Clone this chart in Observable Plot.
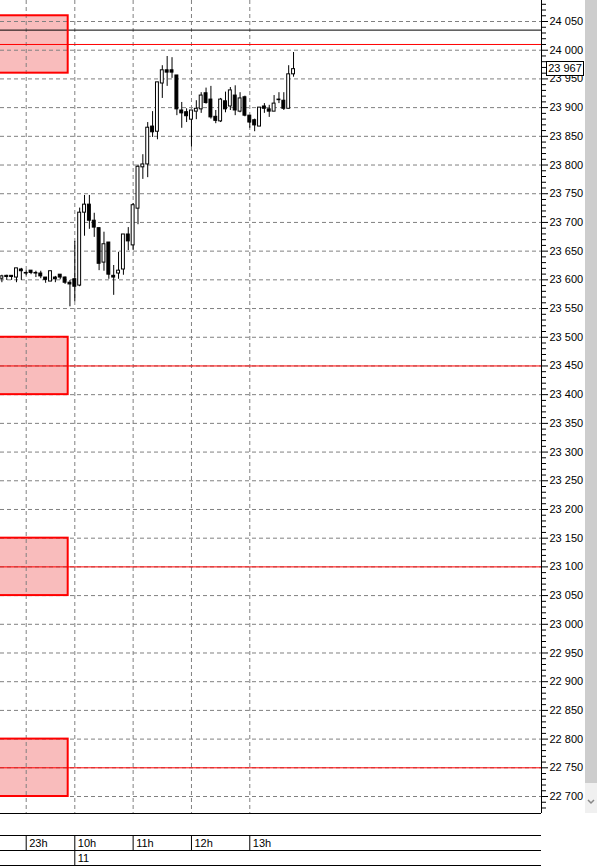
<!DOCTYPE html>
<html><head><meta charset="utf-8">
<script src="https://cdn.jsdelivr.net/npm/d3@7"></script>
<script src="https://cdn.jsdelivr.net/npm/@observablehq/plot@0.6"></script>
<style>
html,body{margin:0;padding:0;background:#fff;overflow:hidden;}
#wrap{position:relative;width:597px;height:868px;font-family:"Liberation Sans",Arial,sans-serif;}
#wrap svg{display:block;}
#tag{position:absolute;left:546px;width:36px;height:13px;border:1px solid #000;background:#fff;font:11px "Liberation Sans",Arial,sans-serif;line-height:13px;text-align:center;color:#000;}
#sb1{position:absolute;left:585px;top:0;width:12px;height:783px;background:#cdcdcd;}
#sb2{position:absolute;left:585px;top:783px;width:12px;height:30px;background:#f0f0f0;}
</style>
</head><body><div id="wrap"></div>
<script>
// OHLC of 5-minute candles (index 0..60)
const opens  = [23602,23607,23607,23604,23618,23612,23616,23612,23611,23604,23597,23604,23609,23604,23595,23601,23590,23717,23731,23703,23690,23630,23665,23607,23611,23618,23679,23660,23724,23796,23801,23867,23858,23942,23965,23965,23956,23895,23892,23879,23893,23897,23925,23914,23884,23876,23911,23902,23921,23893,23918,23886,23878,23867,23902,23897,23893,23914,23912,23898,23958];
const highs  = [23608,23608,23607,23620,23620,23616,23616,23615,23615,23604,23615,23606,23609,23605,23599,23667,23725,23747,23747,23716,23690,23683,23665,23625,23648,23679,23691,23733,23800,23818,23874,23893,23944,23973,23989,23987,23956,23909,23898,23895,23912,23926,23934,23937,23895,23916,23927,23935,23938,23926,23920,23886,23880,23900,23907,23904,23921,23926,23926,23973,23996];
const lows   = [23595,23599,23599,23595,23599,23607,23609,23604,23602,23594,23597,23595,23600,23592,23553,23562,23588,23676,23688,23674,23616,23615,23601,23573,23601,23608,23651,23651,23696,23775,23778,23848,23844,23916,23937,23951,23886,23864,23874,23831,23879,23890,23906,23880,23872,23874,23891,23895,23886,23891,23884,23864,23858,23867,23890,23883,23893,23907,23895,23898,23953];
const closes = [23606,23605,23605,23620,23615,23611,23612,23611,23606,23600,23615,23601,23604,23595,23592,23588,23717,23731,23703,23691,23628,23662,23609,23604,23616,23679,23667,23730,23797,23801,23865,23857,23944,23965,23961,23961,23897,23890,23885,23895,23898,23921,23908,23883,23877,23914,23897,23930,23895,23916,23886,23874,23869,23900,23898,23893,23907,23913,23898,23958,23967];

// time axis
const timeTicks  = [5, 15, 27, 39, 51];
const timeLabels = ["23h", "10h", "11h", "12h", "13h"];
const dateTicks  = [15];
const dateLabels = ["11"];

// levels and zones
const redLevels   = [24010, 23450, 23100, 22750];
const blackLevels = [24035];
const zoneTops    = [24060, 23500, 23150, 22800];
const zoneBottoms = [23960, 23400, 23050, 22700];
const zoneStart   = -5;
const zoneEnd     = 13.64;
const lastPrice   = 23967;

// axis tick values
const majorTicks = d3.range(22700, 24051, 50);
const minorTicks = d3.range(22680, 24081, 10);

const xDomain = [-0.286, 111.01];
const yDomain = [22670.4, 24086.6];

const candles = opens.map((o, i) => ({i, o, h: highs[i], l: lows[i], c: closes[i]}));
const bull = candles.filter(d => d.c >= d.o);
const bear = candles.filter(d => d.c < d.o);
const zones = zoneTops.map((t, k) => ({t, b: zoneBottoms[k]}));
const fmt = d => d3.format(",")(d).replace(",", " ");

const W = 597, MR = 56;
const common = {
  width: W, marginLeft: 0, marginRight: MR,
  style: {background: "white", fontFamily: "Liberation Sans, Arial, sans-serif", fontSize: "11px", color: "black"}
};

const main = Plot.plot({
  ...common,
  height: 814, marginTop: 0, marginBottom: 1,
  x: {type: "linear", domain: xDomain, axis: null},
  y: {type: "linear", domain: yDomain, axis: null},
  marks: [
    Plot.rect(zones, {x1: zoneStart, x2: zoneEnd, y1: "b", y2: "t", fill: "#f9bcbc", clip: true}),
    Plot.ruleY(majorTicks, {stroke: "#808080", strokeDasharray: "4,3"}),
    Plot.ruleX(timeTicks, {stroke: "#808080", strokeDasharray: "4,3"}),
    Plot.ruleY(redLevels, {stroke: "#ff0000"}),
    Plot.ruleY(blackLevels, {stroke: "#000"}),
    Plot.rect(zones, {x1: zoneStart, x2: zoneEnd, y1: "b", y2: "t", fill: "none", stroke: "#ff0000", strokeWidth: 2, clip: true}),
    Plot.ruleX(candles, {x: "i", y1: "l", y2: "h", stroke: "#000"}),
    Plot.rect(bull, {x1: d => d.i - 0.3, x2: d => d.i + 0.3, y1: "o", y2: "c", fill: "white", stroke: "#000"}),
    Plot.rect(bear, {x1: d => d.i - 0.3, x2: d => d.i + 0.3, y1: "c", y2: "o", fill: "black", stroke: "#000"}),
    Plot.ruleX([xDomain[1]], {stroke: "#000"}),
    Plot.ruleY([yDomain[0]], {stroke: "#000"}),
    Plot.axisY(minorTicks.filter(v => v >= yDomain[0] && v <= yDomain[1] && v % 50 !== 0), {anchor: "right", tickSize: 4, tickFormat: () => "", label: null}),
    Plot.axisY(majorTicks, {anchor: "right", tickSize: 6, tickPadding: 2, tickFormat: fmt, label: null, fontSize: 11})
  ]
});

const timePanel = Plot.plot({
  ...common,
  height: 54, marginTop: 0, marginBottom: 0,
  x: {type: "linear", domain: xDomain, axis: null},
  y: {type: "linear", domain: [0, 2], range: [21, 51], axis: null},
  marks: [
    Plot.ruleY([0, 1, 2], {stroke: "#000"}),
    Plot.ruleX(timeTicks, {y1: 0, y2: 1, stroke: "#000"}),
    Plot.ruleX(dateTicks, {y1: 1, y2: 2, stroke: "#000"}),
    Plot.text(timeTicks, {x: d => d, y: 0.5, text: (d, k) => timeLabels[k], textAnchor: "start", dx: 3, fontSize: 11, fill: "#000"}),
    Plot.text(dateTicks, {x: d => d, y: 1.5, text: (d, k) => dateLabels[k], textAnchor: "start", dx: 3, fontSize: 11, fill: "#000"})
  ]
});

const wrap = document.getElementById("wrap");
wrap.appendChild(main);
wrap.appendChild(timePanel);

const sb1 = document.createElement("div"); sb1.id = "sb1"; wrap.appendChild(sb1);
const sb2 = document.createElement("div"); sb2.id = "sb2";
sb2.innerHTML = '<svg width="12" height="30"><polyline points="3,17 6,20 9,17" fill="none" stroke="#888" stroke-width="1.5"/></svg>';
wrap.appendChild(sb2);

const tag = document.createElement("div");
tag.id = "tag";
tag.textContent = fmt(lastPrice);
tag.style.top = (main.scale("y").apply(lastPrice) - 7.5) + "px";
wrap.appendChild(tag);
</script>
</body></html>
